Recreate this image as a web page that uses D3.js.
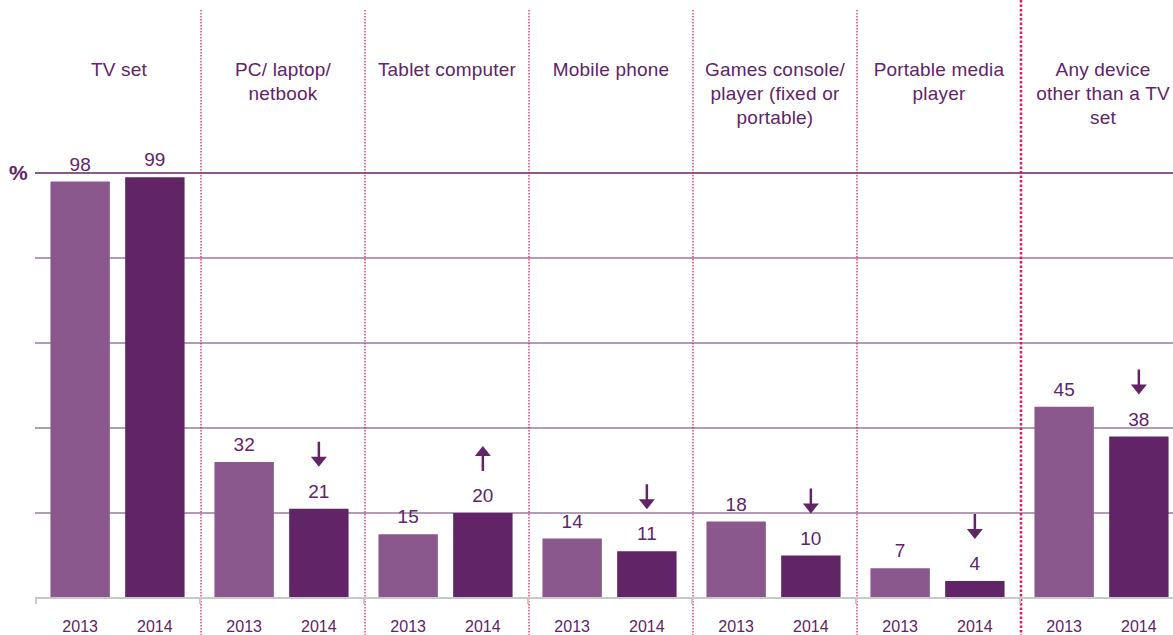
<!DOCTYPE html>
<meta charset="utf-8">
<style>
    body { margin: 0; background: #fff; }
    text { font-family: "Liberation Sans", Arial, sans-serif; fill: #612466; }
</style>
<script src="https://d3js.org/d3.v7.min.js"></script>
<body>
<script>

    // data
    var categories = ["TV set", "PC/ laptop/ netbook", "Tablet computer", "Mobile phone",
        "Games console/ player (fixed or portable)", "Portable media player", "Any device other than a TV set"]
    var categoryLines = [["TV set"], ["PC/ laptop/", "netbook"], ["Tablet computer"], ["Mobile phone"],
        ["Games console/", "player (fixed or", "portable)"], ["Portable media", "player"],
        ["Any device", "other than a TV", "set"]]
    var years = ["2013", "2014"]
    var values2013 = [98, 32, 15, 14, 18, 7, 45]
    var values2014 = [99, 21, 20, 11, 10, 4, 38]
    // change marker on the 2014 bar: "down", "up" or ""
    var change2014 = ["", "down", "up", "down", "down", "down", "down"]
    var gridTicks = [20, 40, 60, 80, 100]

    var width = 1173, height = 635

    var svg = d3.select("body").append("svg")
        .attr("width", width)
        .attr("height", height)

    var x = d3.scaleBand()
        .domain(categories)
        .range([37, 37 + 164 * 7])
        .padding(0)

    var xInner = d3.scaleBand()
        .domain(years)
        .range([0, x.bandwidth()])
        .paddingInner(0.205)
        .paddingOuter(0.2)
        .align(0.45)

    var y = d3.scaleLinear()
        .domain([0, 100])
        .range([598, 173])

    var colors = { "2013": "#8b588d", "2014": "#612466" }

    // gridlines
    svg.selectAll(".grid")
        .data(gridTicks)
        .enter()
        .append("line")
        .attr("x1", 35)
        .attr("x2", width)
        .attr("y1", function (d) { return y(d) })
        .attr("y2", function (d) { return y(d) })
        .attr("stroke", function (d) { return d == 100 ? "#612466" : "#9a789c" })
        .attr("stroke-width", 1.5)

    svg.append("text")
        .text("%")
        .attr("x", 9)
        .attr("y", 180)
        .attr("font-size", "21px")
        .attr("font-weight", "bold")

    // separators
    categories.slice(1).forEach(function (c, i) {
        var last = i == categories.length - 2
        svg.append("line")
            .attr("x1", x(c))
            .attr("x2", x(c))
            .attr("y1", last ? 0 : 10)
            .attr("y2", height)
            .attr("stroke", "#e0195a")
            .attr("stroke-width", last ? 2.5 : 1.2)
            .attr("stroke-dasharray", last ? "2.5,2" : "1.5,1.5")
    })

    // bars
    var rows = []
    categories.forEach(function (c, i) {
        rows.push({ cat: c, year: "2013", value: values2013[i], change: "" })
        rows.push({ cat: c, year: "2014", value: values2014[i], change: change2014[i] })
    })

    svg.selectAll(".bar")
        .data(rows)
        .enter()
        .append("rect")
        .attr("x", function (d) { return x(d.cat) + xInner(d.year) })
        .attr("width", xInner.bandwidth())
        .attr("y", function (d) { return y(d.value) })
        .attr("height", function (d) { return y(0) - y(d.value) })
        .attr("fill", function (d) { return colors[d.year] })

    // value labels
    svg.selectAll(".val")
        .data(rows)
        .enter()
        .append("text")
        .text(function (d) { return d.value })
        .attr("x", function (d) { return x(d.cat) + xInner(d.year) + xInner.bandwidth() / 2 })
        .attr("y", function (d) { return y(d.value) - 11 })
        .attr("text-anchor", "middle")
        .attr("font-size", "19px")

    // arrows
    var arrows = svg.selectAll(".arrow")
        .data(rows.filter(function (d) { return d.change != "" }))
        .enter()
        .append("g")
        .attr("transform", function (d) {
            return "translate(" + (x(d.cat) + xInner(d.year) + xInner.bandwidth() / 2) + "," + (y(d.value) - 67) + ")"
        })

    arrows.append("line")
        .attr("x1", 0).attr("x2", 0)
        .attr("y1", function (d) { return d.change == "down" ? 0 : 7 })
        .attr("y2", function (d) { return d.change == "down" ? 18 : 25 })
        .attr("stroke", "#612466")
        .attr("stroke-width", 2.5)

    arrows.append("path")
        .attr("d", function (d) {
            return d.change == "down" ? "M-8,15 L8,15 L0,25 Z" : "M-8,10 L8,10 L0,0 Z"
        })
        .attr("fill", "#612466")

    // category labels
    categoryLines.forEach(function (lines, i) {
        var t = svg.append("text")
            .attr("x", x(categories[i]) + x.bandwidth() / 2)
            .attr("y", 76)
            .attr("text-anchor", "middle")
            .attr("font-size", "19px")
            .attr("letter-spacing", "0.2px")
        lines.forEach(function (l, j) {
            t.append("tspan")
                .attr("x", x(categories[i]) + x.bandwidth() / 2)
                .attr("dy", j == 0 ? 0 : 24)
                .text(l)
        })
    })

    // x axis line
    svg.append("line")
        .attr("x1", 35)
        .attr("x2", width)
        .attr("y1", 598)
        .attr("y2", 598)
        .attr("stroke", "#c8c8c8")
        .attr("stroke-width", 2)

    svg.selectAll(".tick")
        .data(categories)
        .enter()
        .append("line")
        .attr("x1", function (d) { return x(d) - 1 })
        .attr("x2", function (d) { return x(d) - 1 })
        .attr("y1", 598)
        .attr("y2", 604)
        .attr("stroke", "#c8c8c8")
        .attr("stroke-width", 2)

    svg.selectAll(".yr")
        .data(rows)
        .enter()
        .append("text")
        .text(function (d) { return d.year })
        .attr("x", function (d) { return x(d.cat) + xInner(d.year) + xInner.bandwidth() / 2 })
        .attr("y", 632)
        .attr("text-anchor", "middle")
        .attr("font-size", "16px")

</script>
</body>
